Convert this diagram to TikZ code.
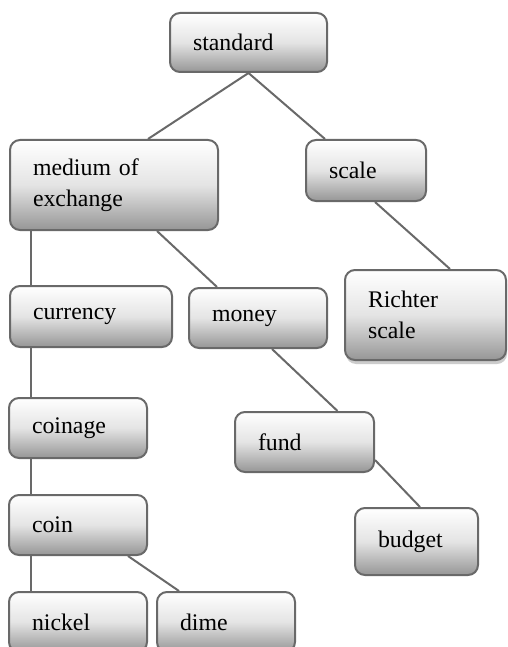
\documentclass[tikz,border=0pt]{standalone}
\usepackage{fontspec}
\setmainfont{Liberation Serif}
\usetikzlibrary{shadows}
\definecolor{shT}{RGB}{255,255,255}
\definecolor{shM}{RGB}{228,228,228}
\definecolor{shB}{RGB}{150,150,150}
\definecolor{edgegray}{RGB}{105,105,105}
\pgfdeclareverticalshading{boxshade}{100bp}{color(0bp)=(shB); color(25bp)=(shB); color(50bp)=(shM); color(75bp)=(shT); color(100bp)=(shT)}
\tikzset{
  cbox/.style={draw=edgegray, line width=2pt, rounded corners=10pt, shading=boxshade,
    inner xsep=23pt, inner ysep=0pt, font=\fontsize{23.8}{31}\selectfont, align=left, anchor=center},
  link/.style={draw=edgegray, line width=2pt}
}
\begin{document}
\begin{tikzpicture}[x=1pt,y=-1pt]
\useasboundingbox (0,0) rectangle (507,647);
% connectors first (behind boxes)
\node[cbox, text width=111pt, minimum height=59pt] (standard) at (248.5,42.5) {standard};
\node[cbox, text width=162pt, minimum height=90pt] (medium) at (114,185) {medium of\\exchange};
\node[cbox, text width=74pt, minimum height=61pt] (scale) at (366,170.5) {scale};
\node[cbox, text width=115pt, minimum height=90pt, drop shadow={shadow xshift=1pt, shadow yshift=-4pt, fill=black!25, opacity=0.8}] (richter) at (425.5,315) {Richter\\scale};
\node[cbox, text width=116pt, minimum height=61pt] (currency) at (91,316.5) {currency};
\node[cbox, text width=92pt, minimum height=60pt] (money) at (258,318) {money};
\node[cbox, text width=92pt, minimum height=60pt] (coinage) at (78,428) {coinage};
\node[cbox, text width=93pt, minimum height=60pt] (fund) at (304.5,442) {fund};
\node[cbox, text width=92pt, minimum height=60pt] (coin) at (78,525) {coin};
\node[cbox, text width=77pt, minimum height=67pt] (budget) at (416.5,541.5) {budget};
\node[cbox, text width=92pt, minimum height=60pt] (nickel) at (78,622) {nickel};
\node[cbox, text width=92pt, minimum height=60pt] (dime) at (226,622) {dime};
\begin{scope}[on background layer/.style={}]
\draw[link] (standard.south) -- ([xshift=34pt]medium.north);
\draw[link] (standard.south) -- ([xshift=-41pt]scale.north);
\draw[link] ([xshift=9pt]scale.south) -- ([xshift=24.5pt]richter.north);
\draw[link] ([xshift=22pt]medium.south west) -- ([xshift=22pt]currency.north west);
\draw[link] ([xshift=43pt]medium.south) -- ([xshift=-41pt]money.north);
\draw[link] ([xshift=14pt]money.south) -- ([xshift=33pt]fund.north);
\draw[link] ([yshift=-18pt]fund.east) -- ([xshift=3.5pt]budget.north);
\draw[link] ([xshift=22pt]currency.south west) -- ([xshift=23pt]coinage.north west);
\draw[link] ([xshift=23pt]coinage.south west) -- ([xshift=23pt]coin.north west);
\draw[link] ([xshift=23pt]coin.south west) -- ([xshift=23pt]nickel.north west);
\draw[link] ([xshift=-20pt]coin.south east) -- ([xshift=23pt]dime.north west);
\end{scope}
\end{tikzpicture}
\end{document}
